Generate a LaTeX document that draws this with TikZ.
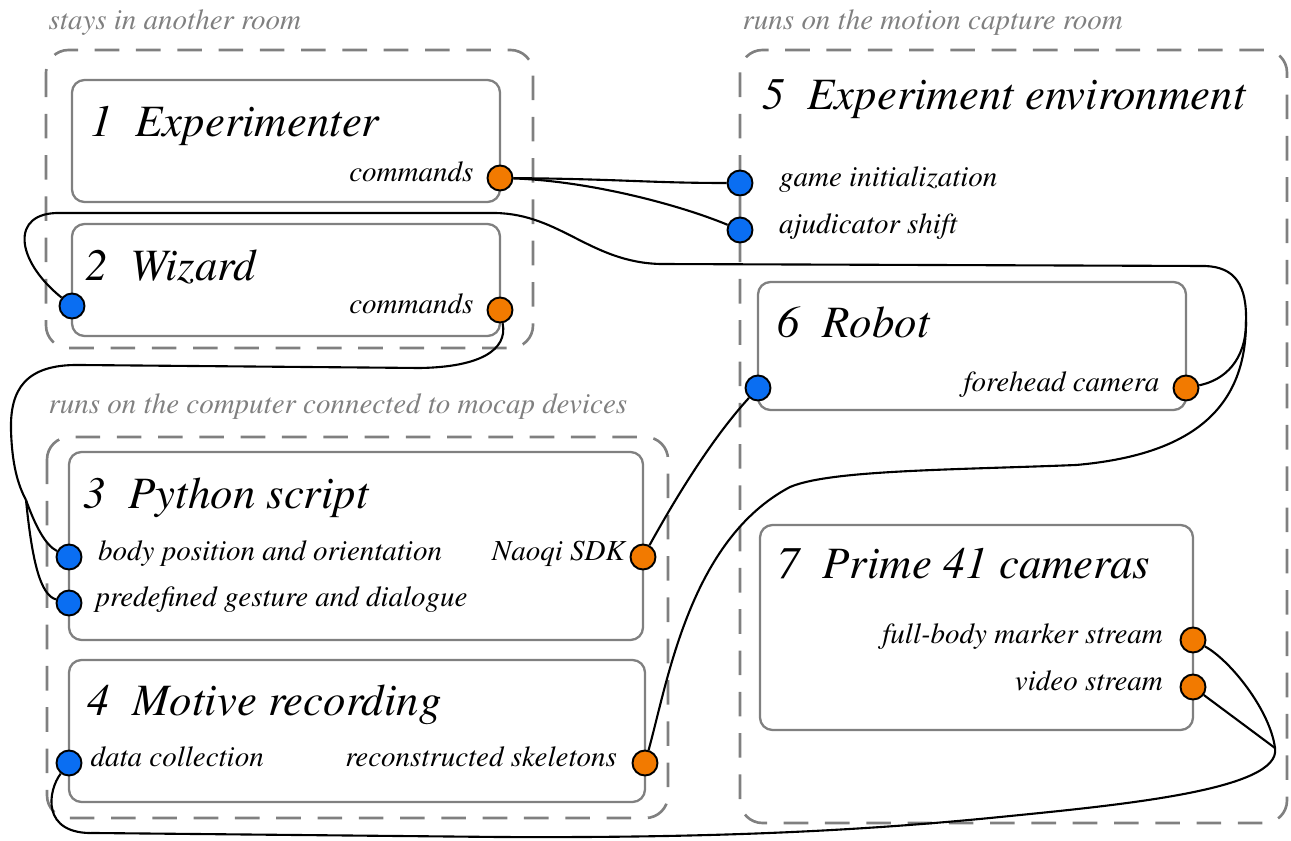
\documentclass[tikz,border=0pt]{standalone}
\usepackage[T1]{fontenc}
\usepackage{mathptmx}
\usepackage{tikz}
\usetikzlibrary{positioning}
\definecolor{portorange}{RGB}{242,122,0}
\definecolor{portblue}{RGB}{10,110,242}
\definecolor{framegray}{RGB}{128,128,128}

\begin{document}
\begin{tikzpicture}[x=0.02cm, y=-0.02cm,
    thick,
    group/.style={draw=framegray, line width=1.5pt, dash pattern=on 14pt off 9.5pt, rounded corners=0.45cm},
    box/.style={draw=framegray, line width=1.3pt, rounded corners=0.25cm},
    title/.style={anchor=base west, inner sep=0pt, font=\fontsize{25.5}{30}\selectfont\itshape},
    grouplabel/.style={anchor=base west, inner sep=0pt, text=framegray, font=\fontsize{16.5}{19}\selectfont\itshape},
    lbl/.style={inner sep=0pt, text height=0.6em, text depth=0.15em, font=\fontsize{16.5}{20}\selectfont\itshape},
    port/.style={circle, draw=black, line width=1.1pt, minimum size=0.5cm, inner sep=0pt},
    outport/.style={port, fill=portorange},
    inport/.style={port, fill=portblue},
    wire/.style={black, line width=1.2pt}]
\useasboundingbox (0,0) rectangle (1291,841);

  \draw[group] (46,50) rectangle (533,348);
  \draw[group] (47,437) rectangle (668,818);
  \draw[group] (740,50) rectangle (1287,823);
  \node[grouplabel] (roomlabel) at (48,30) {stays in another room};
  \node[grouplabel] (pclabel) at (48,413) {runs on the computer connected to mocap devices};
  \node[grouplabel] (mocaplabel) at (742,30) {runs on the motion capture room};

  \draw[box] (72,80) rectangle (500,202);
  \draw[box] (72,224) rectangle (500,336);
  \draw[box] (69,452) rectangle (643,640);
  \draw[box] (69,660) rectangle (645,802);
  \draw[box] (758,282) rectangle (1186,410);
  \draw[box] (760,525) rectangle (1193,730);

  \node[title] (exptitle) at (90,137) {1\enspace Experimenter};
  \node[title] (wiztitle) at (85,280) {2\enspace Wizard};
  \node[title] (pytitle) at (83,508) {3\enspace Python script};
  \node[title] (mottitle) at (87,715) {4\enspace Motive recording};
  \node[title] (envtitle) at (762,110) {5\enspace Experiment environment};
  \node[title] (robtitle) at (777,337) {6\enspace Robot};
  \node[title] (camtitle) at (777,578) {7\enspace Prime 41 cameras};

  \node[outport, label={[lbl, label distance=0.25cm]left:commands}] (expcmd) at (500,178) {};
  \node[inport] (wizin) at (72,306) {};
  \node[outport, label={[lbl, label distance=0.25cm]left:commands}] (wizcmd) at (500,310) {};
  \node[inport, label={[lbl, label distance=0.5cm]right:game initialization}] (gameinit) at (740,183) {};
  \node[inport, label={[lbl, label distance=0.5cm]right:ajudicator shift}] (adjshift) at (740,230) {};
  \node[inport] (robotin) at (758,388) {};
  \node[outport, label={[lbl, label distance=0.25cm]left:forehead camera}] (fcam) at (1186,388) {};
  \node[inport, label={[lbl, label distance=0.3cm]right:body position and orientation}] (pybody) at (69,557) {};
  \node[inport, label={[lbl, label distance=0.25cm]right:predefined gesture and dialogue}] (pygest) at (69,603) {};
  \node[outport, label={[lbl, label distance=0.08cm]left:Naoqi SDK}] (naoqi) at (643,557) {};
  \node[inport, label={[lbl, label distance=0.15cm]right:data collection}] (datain) at (69,763) {};
  \node[outport, label={[lbl, label distance=0.28cm]left:reconstructed skeletons}] (skel) at (645,763) {};
  \node[outport, label={[lbl, label distance=0.32cm]left:full-body marker stream}] (markers) at (1193,640) {};
  \node[outport, label={[lbl, label distance=0.32cm]left:video stream}] (video) at (1193,687) {};

  \coordinate (camjoin) at (1246,322);
  \coordinate (cmdjoin) at (26,500);
  \coordinate (streamjoin) at (1275,748);

  \draw[wire] (expcmd) .. controls (620,179) and (650,183) .. (gameinit);
  \draw[wire] (expcmd) .. controls (590,181) and (680,205) .. (adjshift);

  \draw[wire] (fcam) .. controls (1225,380) and (1246,360) .. (camjoin);
  \draw[wire] (skel) .. controls (668,680) and (690,540) .. (790,487)
    .. controls (830,470) and (950,470) .. (1076,465)
    .. controls (1190,455) and (1246,410) .. (camjoin);
  \draw[wire] (camjoin) .. controls (1247,285) and (1235,267) .. (1205,266)
    -- (660,264) .. controls (590,262) and (560,214) .. (495,213)
    -- (60,213) .. controls (10,212) and (15,260) .. (wizin);

  \draw[wire] (wizcmd) .. controls (508,350) and (480,367) .. (420,368)
    -- (80,365) .. controls (25,364) and (10,390) .. (11,430)
    .. controls (12,465) and (18,485) .. (cmdjoin);
  \draw[wire] (cmdjoin) .. controls (35,525) and (45,545) .. (pybody);
  \draw[wire] (cmdjoin) .. controls (32,560) and (40,595) .. (pygest);

  \draw[wire] (naoqi) .. controls (680,490) and (715,435) .. (robotin);

  \draw[wire] (markers) .. controls (1230,660) and (1270,710) .. (streamjoin);
  \draw[wire] (video) -- (streamjoin);
  \draw[wire] (streamjoin) .. controls (1282,790) and (1120,805) .. (1000,817)
    .. controls (850,832) and (700,838) .. (500,837)
    -- (95,833) .. controls (40,835) and (48,790) .. (datain);
\end{tikzpicture}
\end{document}
